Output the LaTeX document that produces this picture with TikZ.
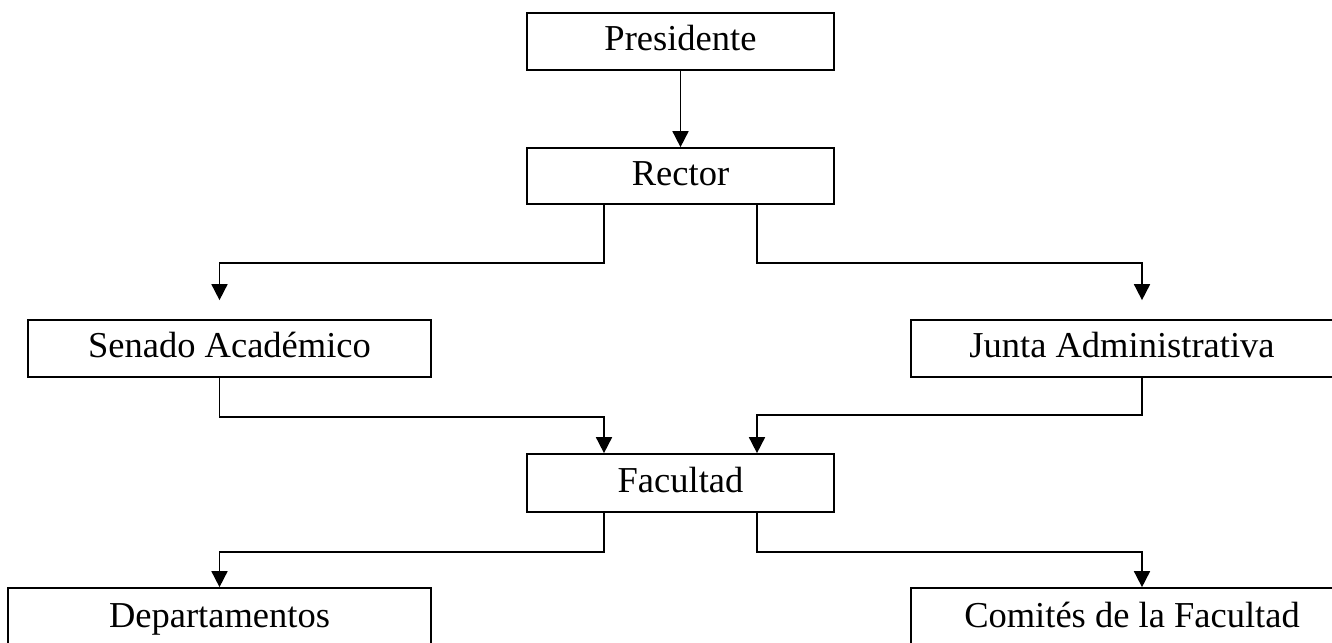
\documentclass[tikz,border=0pt]{standalone}
\usepackage{fontspec}
\setmainfont{Liberation Serif}
\usetikzlibrary{arrows.meta,calc}
\begin{document}
\begin{tikzpicture}[x=1pt,y=-1pt,
  box/.style={draw, line width=1.7pt, inner sep=0pt, minimum height=57pt,
    text height=26pt, text depth=8pt, font=\fontsize{36.5}{40}\selectfont},
  conn/.style={line width=1.7pt},
  arr/.style={conn, -{Triangle[length=16pt,width=16pt]}}]
\useasboundingbox (0,0) rectangle (1332,642);
\clip (0,0) rectangle (1332,642);
\node[box, minimum width=307pt] (pres) at (680.5,41.5) {Presidente};
\node[box, minimum width=307pt, minimum height=56pt] (rect) at (680.5,176) {Rector};
\node[box, minimum width=403pt] (sen) at (229.5,348.5) {Senado Académico};
\node[box, minimum width=422pt] (jun) at (1122,348.5) {Junta Administrativa};
\node[box, minimum width=307pt, minimum height=58pt] (fac) at (680.5,483) {Facultad};
\node[box, minimum width=423pt, minimum height=60pt] (dep) at (219.5,618) {Departamentos};
\node[box, minimum width=442pt, minimum height=60pt] (com) at (1132,618) {Comités de la Facultad};
\coordinate (L) at (219.5,0);
\coordinate (R) at (1142,0);
\draw[arr] (pres.south) -- (rect.north);
\draw[arr, shorten >=19pt] ([xshift=-76.5pt]rect.south) -- ++(0,58) -| (sen.north -| L);
\draw[arr, shorten >=19pt] ([xshift=76.5pt]rect.south) -- ++(0,58) -| (jun.north -| R);
\draw[arr] (sen.south -| L) -- ++(0,39) -| ([xshift=-76.5pt]fac.north);
\draw[arr] (jun.south -| R) -- ++(0,37) -| ([xshift=76.5pt]fac.north);
\draw[arr] ([xshift=-76.5pt]fac.south) -- ++(0,39) -| (dep.north -| L);
\draw[arr] ([xshift=76.5pt]fac.south) -- ++(0,39) -| (com.north -| R);
\end{tikzpicture}
\end{document}
